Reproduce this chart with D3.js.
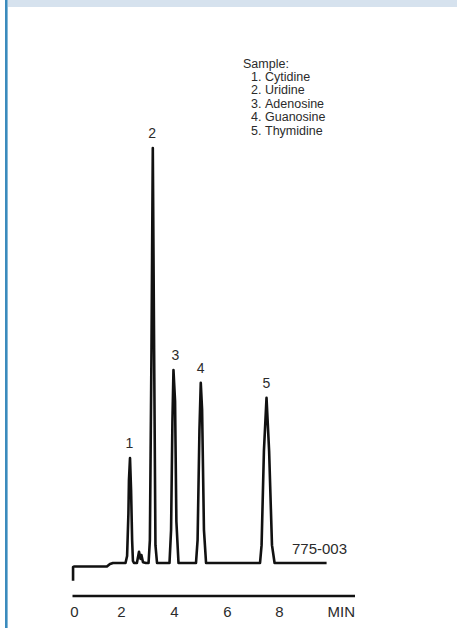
<!DOCTYPE html>
<html>
<head>
<meta charset="utf-8">
<script src="https://cdn.jsdelivr.net/npm/d3@7"></script>
<style>
  html, body { margin: 0; padding: 0; background: #fff; }
  svg { display: block; font-family: "Liberation Sans", Arial, sans-serif; }
</style>
</head>
<body>
<div id="chart"></div>
<script>
// axis ticks (minutes)
const tickMinutes = [0, 2, 4, 6, 8];

// chromatogram trace: time (min) and detector signal (peak 2 = 100)
const traceTime = [-0.04, -0.04, 0, 1.40, 1.53, 1.66,
  2.17, 2.23, 2.28, 2.30, 2.34, 2.38, 2.42, 2.45, 2.49,
  2.60, 2.68, 2.74, 2.77, 2.83, 2.94,
  3.04, 3.09, 3.15, 3.20, 3.25, 3.30, 3.36,
  3.83, 3.89, 3.94, 3.98, 4.04, 4.09, 4.17,
  4.83, 4.89, 4.96, 5.01, 5.06, 5.13, 5.21,
  7.27, 7.33, 7.42, 7.52, 7.62, 7.73, 7.83,
  9.83];
const traceSignal = [-4.3, -1.0, -0.85, -0.85, -0.25, 0,
  0, 1.7, 12, 20, 25.3, 17.6, 5.5, 0.5, 0,
  0, 2.7, 1.0, 1.9, 0.2, 0,
  0, 5.5, 51, 100, 51, 4.3, 0,
  0, 8, 34, 46.5, 39, 10, 0,
  0, 5.5, 32, 43.4, 37, 8, 0,
  0, 4.3, 27, 39.8, 27, 4.3, 0,
  0];

// labelled peaks
const peakIds = ["1", "2", "3", "4", "5"];
const peakTimes = [2.32, 3.18, 4.05, 5.01, 7.52];
const peakHeights = [25.3, 100, 46.5, 43.4, 39.8];

// legend
const sampleTitle = "Sample:";
const sampleNames = ["Cytidine", "Uridine", "Adenosine", "Guanosine", "Thymidine"];
const chartCode = "775-003";

const width = 457, height = 628;
const ink = "#2b2b2b";

const svg = d3.select("#chart").append("svg")
  .attr("width", width)
  .attr("height", height);

// page frame: top band and left rule
svg.append("rect")
  .attr("x", 8).attr("y", 0)
  .attr("width", width - 8).attr("height", 7)
  .attr("fill", "#d6e2ee");
svg.append("rect")
  .attr("x", 5).attr("y", 0)
  .attr("width", 2.6).attr("height", height)
  .attr("fill", "#3b8bbd");

// scanned figure spacing is a bit uneven, so the scale follows the printed ticks
const x = d3.scaleLinear()
  .domain(tickMinutes)
  .range([74, 121, 174, 227, 279]);

const y = d3.scaleLinear()
  .domain([0, 100])
  .range([563, 148]);

const trace = traceTime.map((t, i) => [t, traceSignal[i]]);

const line = d3.line()
  .x(d => x(d[0]))
  .y(d => y(d[1]));

svg.append("path")
  .datum(trace)
  .attr("fill", "none")
  .attr("stroke", "#111")
  .attr("stroke-width", 2.6)
  .attr("stroke-linejoin", "round")
  .attr("d", line);

// peak numbers
svg.append("g").selectAll("text")
  .data(peakIds)
  .join("text")
  .attr("x", (d, i) => x(peakTimes[i]))
  .attr("y", (d, i) => y(peakHeights[i]) - 10)
  .attr("text-anchor", "middle")
  .attr("font-size", 14)
  .attr("fill", ink)
  .text(d => d);

// time axis
svg.append("line")
  .attr("x1", 72.5).attr("x2", 355)
  .attr("y1", 596).attr("y2", 596)
  .attr("stroke", "#111")
  .attr("stroke-width", 2.5);

const axis = svg.append("g")
  .attr("transform", "translate(0,597)")
  .call(d3.axisBottom(x).tickValues(tickMinutes).tickSize(0).tickPadding(9));
axis.select(".domain").remove();
axis.selectAll("text")
  .attr("font-size", 15)
  .attr("font-family", "Liberation Sans, Arial, sans-serif")
  .attr("fill", ink);

svg.append("text")
  .attr("x", 355)
  .attr("y", 617)
  .attr("text-anchor", "end")
  .attr("font-size", 15)
  .attr("fill", ink)
  .text("MIN");

svg.append("text")
  .attr("x", 292)
  .attr("y", 553.5)
  .attr("font-size", 15)
  .attr("fill", ink)
  .text(chartCode);

// sample legend
const legend = svg.append("g").attr("font-size", 12.5).attr("fill", ink);
legend.append("text")
  .attr("x", 243).attr("y", 67.5)
  .text(sampleTitle);
const rows = legend.selectAll("g.row")
  .data(sampleNames)
  .join("g")
  .attr("class", "row")
  .attr("transform", (d, i) => `translate(0,${81 + i * 13.4})`);
rows.append("text")
  .attr("x", 251)
  .text((d, i) => (i + 1) + ".");
rows.append("text")
  .attr("x", 265)
  .text(d => d);
</script>
</body>
</html>
